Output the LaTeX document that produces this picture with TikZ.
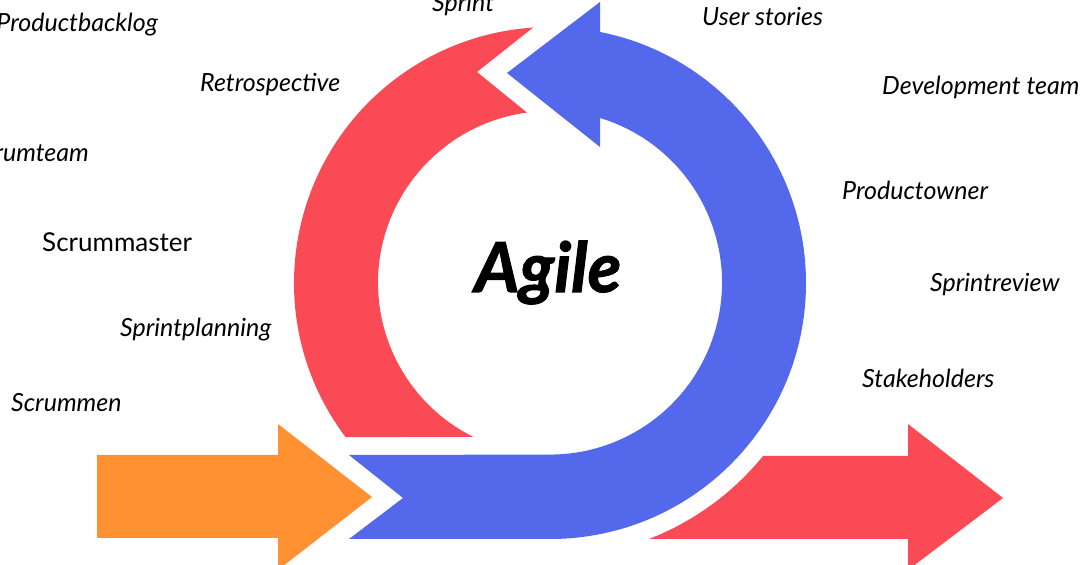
\documentclass[tikz,border=0pt]{standalone}
\usepackage{fontspec}
\setmainfont{Lato}
\usetikzlibrary{calc}
\definecolor{agilered}{HTML}{F94A56}
\definecolor{agileblue}{HTML}{5468EC}
\definecolor{agileorange}{HTML}{FF9133}

\begin{document}
\begin{tikzpicture}[x=1pt, y=1pt,
        term/.style={anchor=base west, inner sep=0pt, font=\fontsize{25}{30}\selectfont\itshape}]
        \useasboundingbox (0,0) rectangle (1080,565);
        \clip (0,0) rectangle (1080,565);
        \coordinate (centre) at (550,282);

        % arrow coming in
        \fill[agileorange] (97,110) -- (278,110) -- (278,141) -- (372,68) -- (278,-5) -- (278,27) -- (97,27) -- cycle;

        % red half of the loop
        \fill[agilered] ($(centre)+(217:256)$) arc[start angle=217, end angle=93.8, radius=256] -- (477,493) -- ($(centre)+(97.7:172)$) arc[start angle=97.7, end angle=243.5, radius=172] -- cycle;

        % blue half of the loop
        \fill[agileblue] (600,533) -- (600,563) -- (507,492) -- (600,418) -- (600,447) arc[start angle=73.1, end angle=-90, radius=172] -- (349,110) -- (403,67) -- (349,26) -- (550,26) arc[start angle=-90, end angle=78.74, radius=256] -- cycle;

        % arrow going out
        \fill[agilered] (650,26) -- (908,26) -- (908,-5) -- (1003,67) -- (908,141) -- (908,109) -- (763,109) arc[start angle=-39.1, end angle=-68.7, radius=275] -- cycle;

        \node (agile) [anchor=base, inner sep=0pt, font=\fontsize{69}{72}\selectfont\bfseries\itshape\addfontfeature{FakeBold=1.5}] at (548,273) {Agile};

        \node (sprint) [term] at (432,553) {Sprint};
        \node (backlog) [term, anchor=base east] at (158,533) {Productbacklog};
        \node (retro) [term] at (200,473) {Retrospective};
        \node (scrumteam) [term, anchor=base east] at (89,403) {Scrumteam};
        \node (master) [term, font=\fontsize{26}{30}\selectfont\upshape] at (42,313) {Scrummaster};
        \node (planning) [term] at (120,228) {Sprintplanning};
        \node (scrummen) [term] at (11,153) {Scrummen};

        \node (stories) [term] at (702,539) {User stories};
        \node (devteam) [term] at (882,470) {Development team};
        \node (owner) [term] at (842,365) {Productowner};
        \node (review) [term] at (930,273) {Sprintreview};
        \node (stakeholders) [term] at (862,177) {Stakeholders};
    \end{tikzpicture}
\end{document}
